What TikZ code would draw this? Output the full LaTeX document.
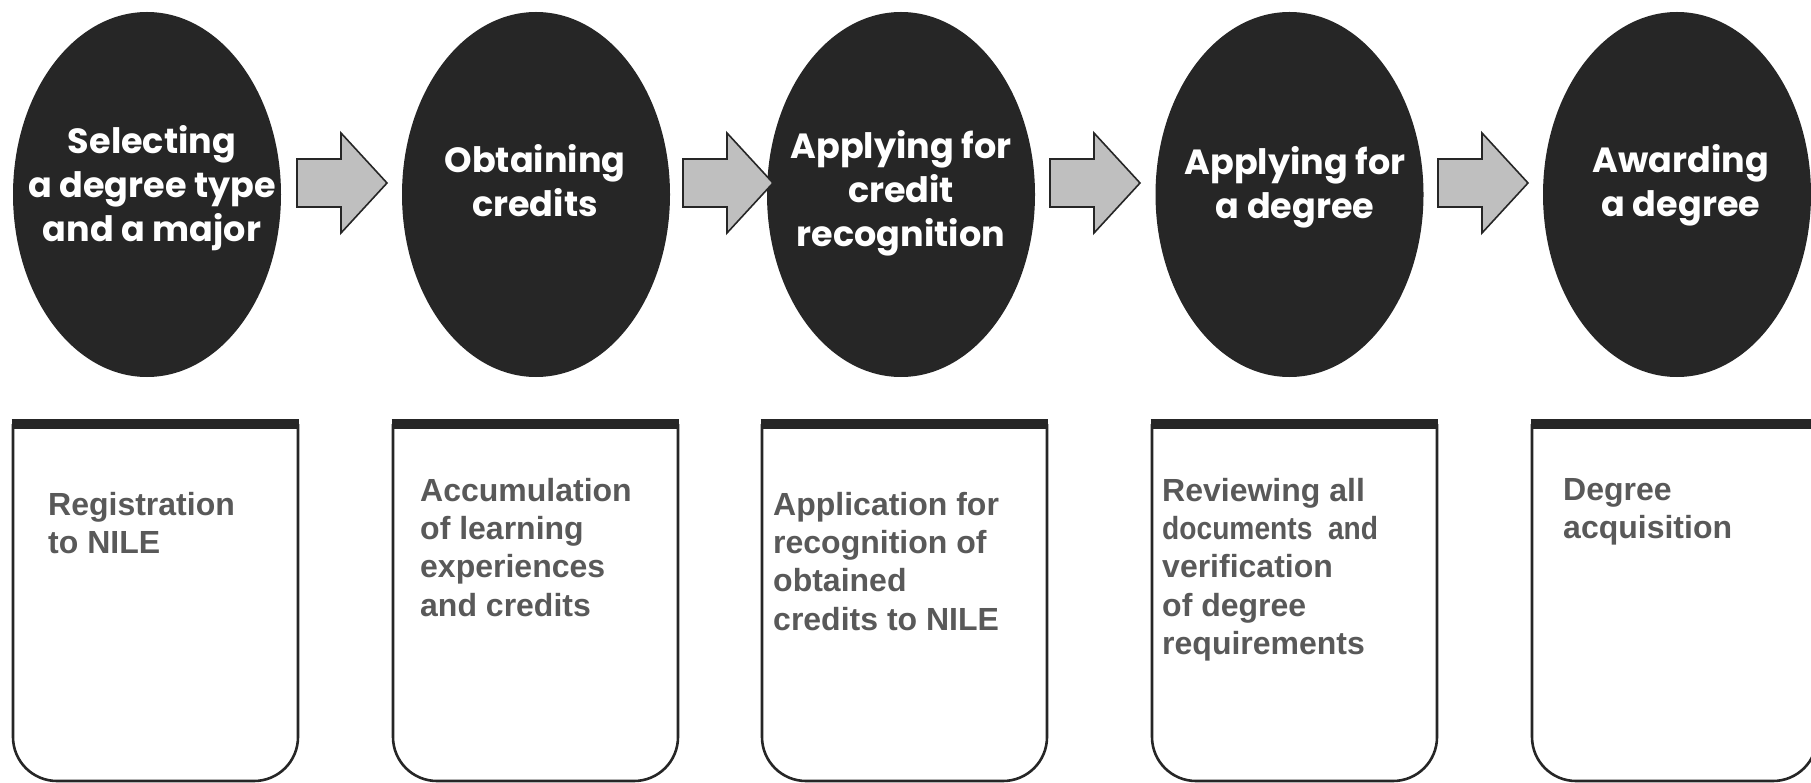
\documentclass[tikz,border=0pt]{standalone}
\usepackage{fontspec}
\setmainfont{Liberation Sans}
\newfontfamily\phasefont{Poppins}
\newfontfamily\narrowfont{Liberation Sans}[FakeStretch=0.88]
\usetikzlibrary{shapes.geometric}

\definecolor{phasefill}{HTML}{262626}
\definecolor{arrowfill}{HTML}{BFBFBF}
\definecolor{notegray}{HTML}{595959}

\begin{document}
\begin{tikzpicture}[x=1pt, y=-1pt,
		phase/.style={ellipse, fill=phasefill, minimum width=268pt, minimum height=365pt, inner sep=0pt},
		phasetext/.style={text=white, align=center, inner sep=0pt, font=\phasefont\bfseries\fontsize{35}{44}\selectfont},
		flowarrow/.style={draw=phasefill, fill=arrowfill, line width=1.6pt, line join=miter},
		notebox/.style={draw=phasefill, line width=2.6pt, rounded corners=44pt},
		notebar/.style={draw=phasefill, line width=10pt},
		notetext/.style={anchor=north west, inner sep=0pt, align=left, text=notegray, font=\bfseries\fontsize{32}{38.3}\selectfont},
	]
		\useasboundingbox (0,0) rectangle (1811,783);
		\clip (0,0) rectangle (1811,783);

		% the five steps
		\node (e1) [phase] at (147,194.5) {};
		\node (e2) [phase] at (536,194.5) {};
		\node (e3) [phase] at (901,194.5) {};
		\node (e4) [phase] at (1289.5,194.5) {};
		\node (e5) [phase] at (1677,194.5) {};

		\node (t1) [phasetext] at (152,188) {Selecting\\a degree type\\and a major};
		\node (t2) [phasetext] at (535,181) {Obtaining\\credits};
		\node (t3) [phasetext] at (901,193) {Applying for\\credit\\recognition};
		\node (t4) [phasetext] at (1295,187) {Applying for\\a degree};
		\node (t5) [phasetext] at (1681,185) {Awarding\\a degree};

		% block arrows between the steps
		\coordinate (a1) at (297,183);
		\coordinate (a2) at (683,183);
		\coordinate (a3) at (1050,183);
		\coordinate (a4) at (1438,183);
		\draw[flowarrow] (a1) ++(0,-24) -- ++(44,0) -- ++(0,-26) -- ++(46,50) -- ++(-46,50) -- ++(0,-26) -- ++(-44,0) -- cycle;
		\draw[flowarrow] (a2) ++(0,-24) -- ++(44,0) -- ++(0,-26) -- ++(46,50) -- ++(-46,50) -- ++(0,-26) -- ++(-44,0) -- cycle;
		\draw[flowarrow] (a3) ++(0,-24) -- ++(44,0) -- ++(0,-26) -- ++(46,50) -- ++(-46,50) -- ++(0,-26) -- ++(-44,0) -- cycle;
		\draw[flowarrow] (a4) ++(0,-24) -- ++(44,0) -- ++(0,-26) -- ++(46,50) -- ++(-46,50) -- ++(0,-26) -- ++(-44,0) -- cycle;

		% boxes under the steps
		\draw[notebox] (13,424) -- (13,781) -- (298,781) -- (298,424);
		\draw[notebar] (11.7,424) -- (299.3,424);
		\draw[notebox] (393,424) -- (393,781) -- (678,781) -- (678,424);
		\draw[notebar] (391.7,424) -- (679.3,424);
		\draw[notebox] (762,424) -- (762,781) -- (1047,781) -- (1047,424);
		\draw[notebar] (760.7,424) -- (1048.3,424);
		\draw[notebox] (1152,424) -- (1152,781) -- (1437,781) -- (1437,424);
		\draw[notebar] (1150.7,424) -- (1438.3,424);
		\draw[notebox] (1532,424) -- (1532,781) -- (1817,781) -- (1817,424);
		\draw[notebar] (1530.7,424) -- (1818.3,424);

		\node (d1) [notetext] at (48,492) {Registration\\to NILE};
		\node (d2) [notetext] at (420,478) {Accumulation\\of learning\\experiences\\and credits};
		\node (d3) [notetext] at (773,492) {Application for\\recognition of\\obtained\\credits to NILE};
		\node (d4) [notetext] at (1162,478) {Reviewing all\\{\narrowfont documents\ \ and}\\verification\\of degree\\requirements};
		\node (d5) [notetext] at (1563,478) {Degree\\acquisition};
	\end{tikzpicture}
\end{document}
